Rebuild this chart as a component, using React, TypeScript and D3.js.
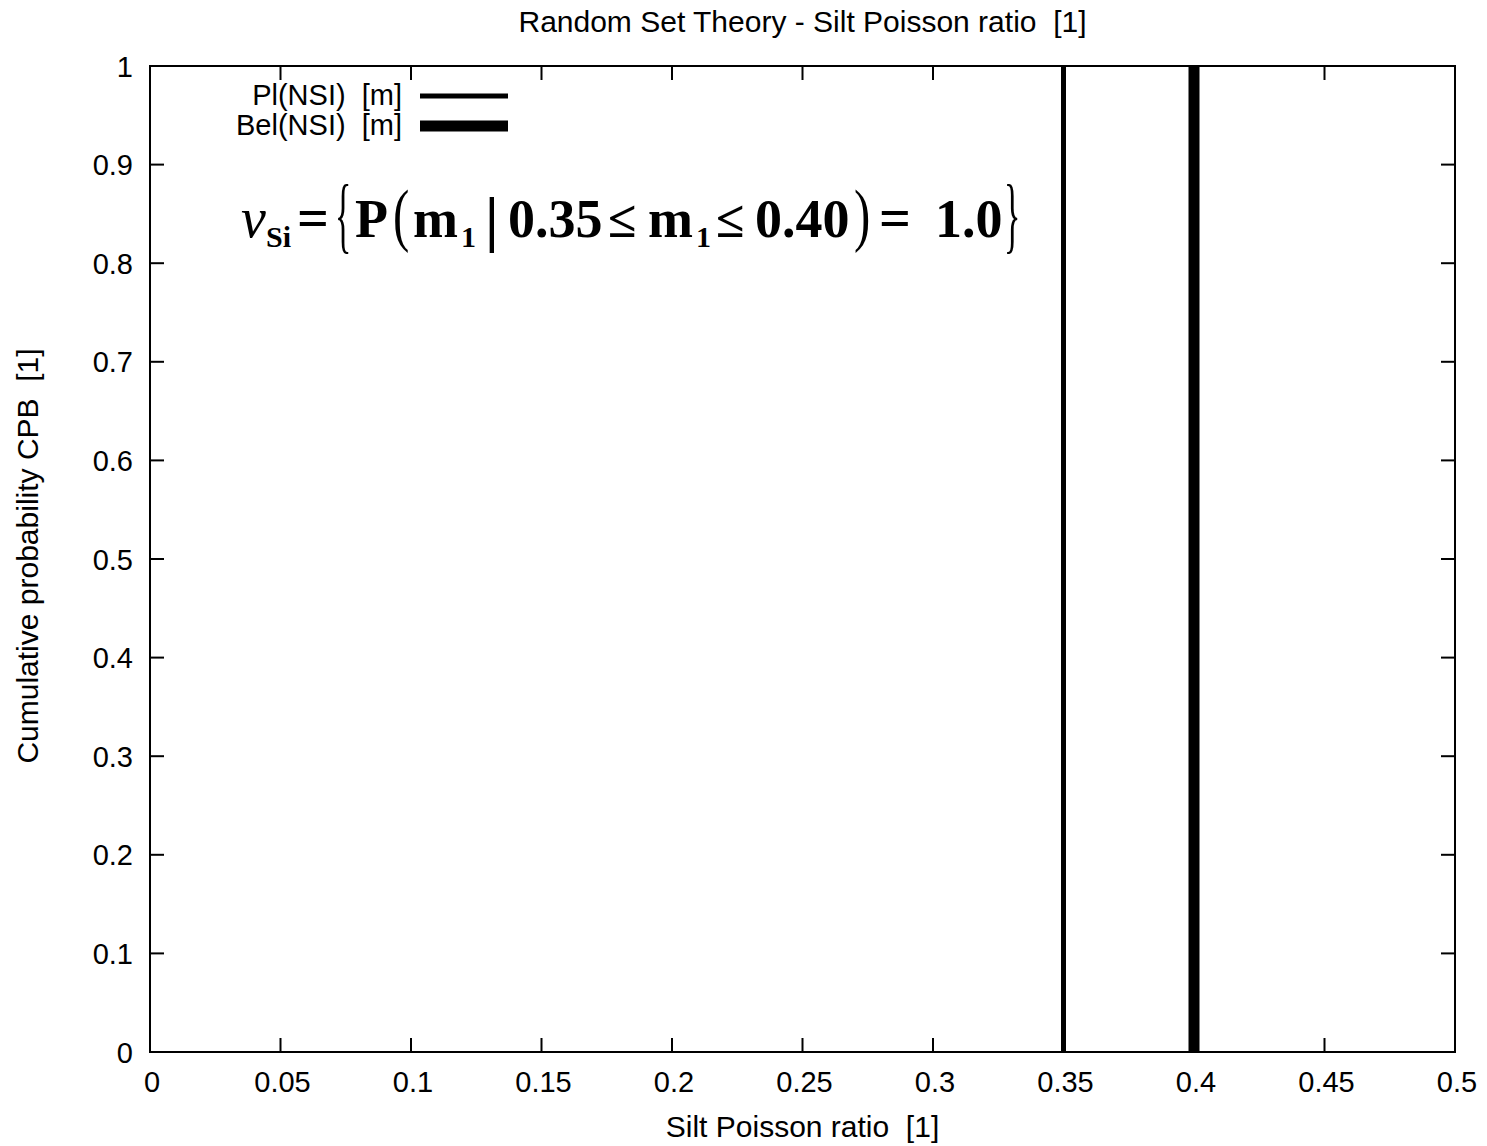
import React from "react";
import * as d3 from "d3";

const title = "Random Set Theory - Silt Poisson ratio  [1]";
const xLabel = "Silt Poisson ratio  [1]";
const yLabel = "Cumulative probability CPB  [1]";
const xTicks = [0, 0.05, 0.1, 0.15, 0.2, 0.25, 0.3, 0.35, 0.4, 0.45, 0.5];
const yTicks = [0, 0.1, 0.2, 0.3, 0.4, 0.5, 0.6, 0.7, 0.8, 0.9, 1];
const plSeries = [
  { x: 0.35, y: 0 },
  { x: 0.35, y: 1 },
];
const belSeries = [
  { x: 0.4, y: 0 },
  { x: 0.4, y: 1 },
];
const legendLabels = ["Pl(NSI)  [m]", "Bel(NSI)  [m]"];

const W = 1487;
const H = 1146;
const L = 150, R = 1455, T = 66, B = 1052;

export default function App() {
  const x = d3.scaleLinear().domain([0, 0.5]).range([L, R]);
  const y = d3.scaleLinear().domain([0, 1]).range([B, T]);
  const line = d3.line<{ x: number; y: number }>().x((d) => x(d.x)).y((d) => y(d.y));
  const sans = "'Liberation Sans', Arial, sans-serif";
  const serif = "'Liberation Serif', 'Times New Roman', serif";
  const tick = 14;
  const fs = 30;
  return (
    <svg width={W} height={H} style={{ display: "block", position: "absolute", left: 0, top: 0, background: "#fff" }}>
      <rect x={0} y={0} width={W} height={H} fill="#fff" />
      <text x={(L + R) / 2} y={32} textAnchor="middle" fontFamily={sans} fontSize={fs} style={{ whiteSpace: "pre" }}>{title}</text>
      {xTicks.map((t, i) => (
        <g key={"x" + i}>
          <line x1={x(t)} x2={x(t)} y1={B} y2={B - tick} stroke="#000" strokeWidth={2} />
          <line x1={x(t)} x2={x(t)} y1={T} y2={T + tick} stroke="#000" strokeWidth={2} />
          <text x={x(t) + 2} y={1092} textAnchor="middle" fontFamily={sans} fontSize={29}>{d3.format("")(t)}</text>
        </g>
      ))}
      {yTicks.map((t, i) => (
        <g key={"y" + i}>
          <line x1={L} x2={L + tick} y1={y(t)} y2={y(t)} stroke="#000" strokeWidth={2} />
          <line x1={R} x2={R - tick} y1={y(t)} y2={y(t)} stroke="#000" strokeWidth={2} />
          <text x={133} y={y(t) + 10.5} textAnchor="end" fontFamily={sans} fontSize={29}>{d3.format("")(t)}</text>
        </g>
      ))}
      <rect x={L} y={T} width={R - L} height={B - T} fill="none" stroke="#000" strokeWidth={2} />
      <text x={(L + R) / 2} y={1137} textAnchor="middle" fontFamily={sans} fontSize={fs} style={{ whiteSpace: "pre" }}>{xLabel}</text>
      <text transform={`translate(38, 556) rotate(-90)`} textAnchor="middle" fontFamily={sans} fontSize={fs} style={{ whiteSpace: "pre" }}>{yLabel}</text>
      <path d={line(plSeries) || ""} stroke="#000" strokeWidth={5} fill="none" />
      <path d={line(belSeries) || ""} stroke="#000" strokeWidth={11} fill="none" />
      <text x={402} y={105} textAnchor="end" fontFamily={sans} fontSize={29} style={{ whiteSpace: "pre" }}>{legendLabels[0]}</text>
      <line x1={420} x2={508} y1={96} y2={96} stroke="#000" strokeWidth={5} />
      <text x={402} y={135} textAnchor="end" fontFamily={sans} fontSize={29} style={{ whiteSpace: "pre" }}>{legendLabels[1]}</text>
      <line x1={420} x2={508} y1={126} y2={126} stroke="#000" strokeWidth={11} />
      <g fontFamily={serif} fill="#000">
        <text x={241} y={237} fontSize={56} fontStyle="italic">ν</text>
        <text x={266} y={247} fontSize={30} fontWeight="bold">Si</text>
        <text x={297} y={237} fontSize={56} fontWeight="bold">=</text>
        <text transform="translate(335,243) scale(0.4,1)" fontSize={85}>{"{"}</text>
        <text x={355} y={237} fontSize={54} fontWeight="bold">P</text>
        <text transform="translate(393,238) scale(0.7,1)" fontSize={70}>(</text>
        <text x={413} y={237} fontSize={54} fontWeight="bold">m</text>
        <text x={461} y={247} fontSize={30} fontWeight="bold">1</text>
        <text x={485} y={240} fontSize={62} fontWeight="bold">|</text>
        <text x={508} y={237} fontSize={54} fontWeight="bold">0.35</text>
        <text x={608} y={237} fontSize={52} fontWeight="bold">≤</text>
        <text x={648} y={237} fontSize={54} fontWeight="bold">m</text>
        <text x={696} y={247} fontSize={30} fontWeight="bold">1</text>
        <text x={716} y={237} fontSize={52} fontWeight="bold">≤</text>
        <text x={755} y={237} fontSize={54} fontWeight="bold">0.40</text>
        <text transform="translate(854,238) scale(0.7,1)" fontSize={70}>)</text>
        <text x={879} y={237} fontSize={56} fontWeight="bold">=</text>
        <text x={935} y={237} fontSize={54} fontWeight="bold">1.0</text>
        <text transform="translate(1004,243) scale(0.4,1)" fontSize={85}>{"}"}</text>
      </g>
    </svg>
  );
}
